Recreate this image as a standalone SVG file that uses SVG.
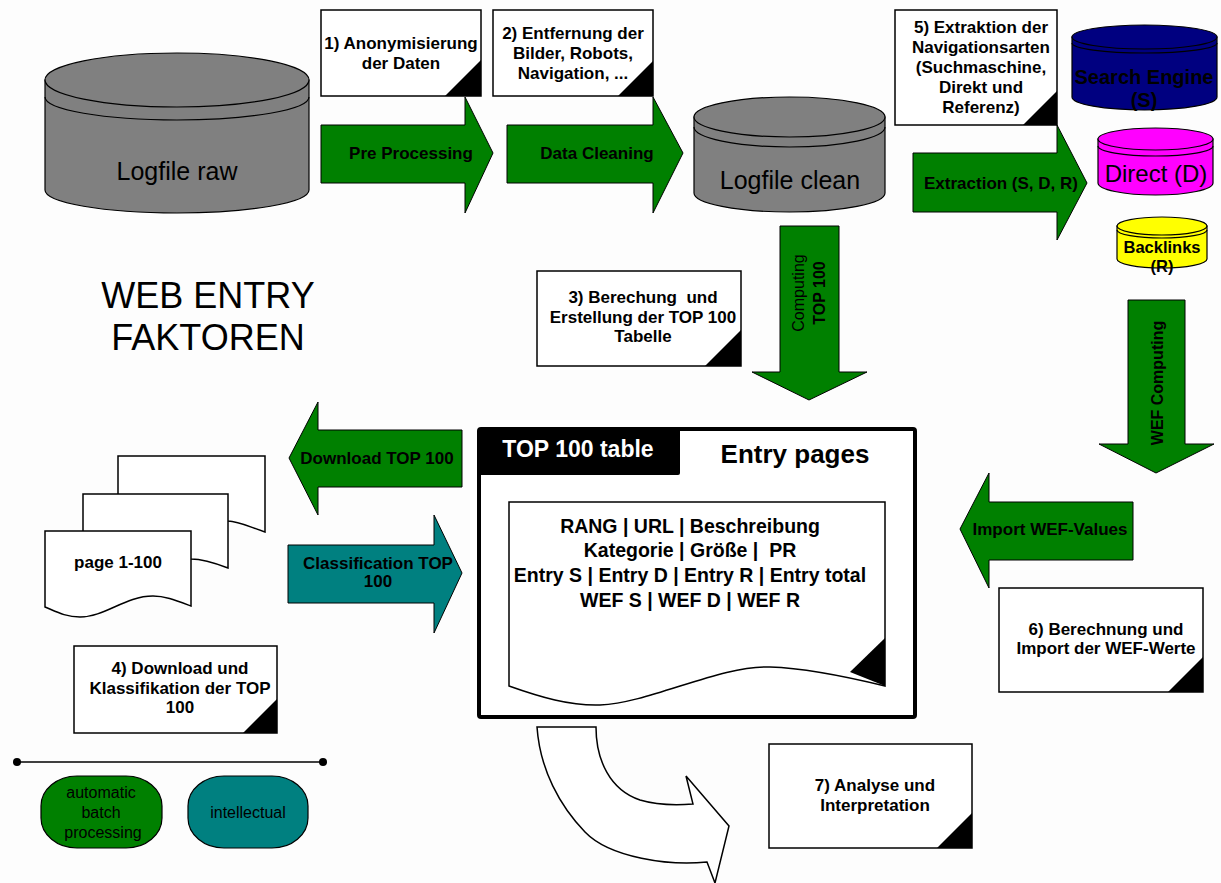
<svg xmlns="http://www.w3.org/2000/svg" width="1221" height="883" viewBox="0 0 1221 883">
<style>
.bg{fill:#fdfdfd}
.box{fill:#fff;stroke:#000;stroke-width:1.5}
.cor{fill:#000}
.t{font-family:"Liberation Sans",Arial,sans-serif;font-weight:bold;font-size:17px;text-anchor:middle;fill:#000}
.n{font-weight:normal}
.ga{fill:#008000;stroke:#000;stroke-width:1}
.ta{fill:#008080;stroke:#000;stroke-width:1}
.cyl{stroke:#000;stroke-width:1.2}
.ln{fill:none;stroke:#000;stroke-width:1.2}
</style>
<rect class="bg" x="0" y="0" width="1221" height="883"/>

<g id="connectors">
  <path class="ga" d="M321,125 L465,125 L465,97 L493,153 L465,213 L465,183 L321,183 Z"/>
  <path class="ga" d="M507,125 L653,125 L653,97 L683,153 L653,213 L653,183 L507,183 Z"/>
  <path class="ga" d="M913,153 L1057,153 L1057,125 L1087,183 L1057,240 L1057,212 L913,212 Z"/>
  <path class="ga" d="M462,430 L318,430 L318,402 L289,458 L318,515 L318,487 L462,487 Z"/>
  <path class="ta" d="M288,545 L434,545 L434,515 L462,573 L434,633 L434,603 L288,603 Z"/>
  <path class="ga" d="M1133,502 L989,502 L989,473 L960,529 L989,588 L989,560 L1133,560 Z"/>
  <path class="ga" d="M780,226 L839,226 L839,372 L867,372 L809,400 L752,372 L780,372 Z"/>
  <path class="ga" d="M1128,300 L1185,300 L1185,444 L1214,444 L1156,473 L1099,444 L1128,444 Z"/>
  <path fill="#fff" stroke="#000" stroke-width="1.5" d="M537,727 L596,727 C596,760 610,790 640,800 C660,806 680,805 693,804 L686,776 L729,826 L715,883 L707,862 C670,866 610,858 585,832 C560,806 540,770 537,727 Z"/>
  <text class="t" x="411" y="159">Pre Processing</text>
  <text class="t" x="597" y="159">Data Cleaning</text>
  <text class="t" x="1001" y="189">Extraction (S, D, R)</text>
  <text class="t" x="377" y="464">Download TOP 100</text>
  <text class="t" x="378" y="569">Classification TOP</text>
  <text class="t" x="378" y="587">100</text>
  <text class="t" x="1050" y="535">Import WEF-Values</text>
  <text class="t n" transform="translate(798,293) rotate(-90)" x="0" y="6" style="font-size:16px">Computing</text>
  <text class="t" transform="translate(819,293) rotate(-90)" x="0" y="6" style="font-size:16px">TOP 100</text>
  <text class="t" transform="translate(1157,383) rotate(-90)" x="0" y="6" style="font-size:16px">WEF Computing</text>
</g>

<g id="logfile-raw">
  <path class="cyl" fill="#808080" d="M45,80 L45,190 A132,23 0 0 0 309,190 L309,80 Z"/>
  <ellipse class="cyl" fill="#808080" cx="177" cy="80" rx="132" ry="27"/>
  <path class="ln" d="M45,97 A132,23 0 0 0 309,97"/>
  <text class="t n" x="177" y="180" style="font-size:25px">Logfile raw</text>
</g>

<g id="logfile-clean">
  <path class="cyl" fill="#808080" d="M694,117 L694,193 A95.5,19 0 0 0 885,193 L885,117 Z"/>
  <ellipse class="cyl" fill="#808080" cx="789.5" cy="117" rx="95.5" ry="20"/>
  <path class="ln" d="M694,127 A95.5,20 0 0 0 885,127"/>
  <text class="t n" x="790" y="189" style="font-size:25px">Logfile clean</text>
</g>

<g id="search-engine">
  <path class="cyl" fill="#000080" d="M1072,37 L1072,97 A72.5,13 0 0 0 1217,97 L1217,37 Z"/>
  <ellipse class="cyl" fill="#000080" cx="1144.5" cy="37" rx="72.5" ry="12"/>
  <path class="ln" d="M1072,43 A72.5,10 0 0 0 1217,43"/>
  <text class="t" x="1144" y="84" style="font-size:20px;fill:#000">Search Engine</text>
  <text class="t" x="1144" y="107" style="font-size:20px;fill:#000">(S)</text>
</g>

<g id="direct">
  <path class="cyl" fill="#ff00ff" d="M1098,139 L1098,183 A57.5,12 0 0 0 1213,183 L1213,139 Z"/>
  <ellipse class="cyl" fill="#ff00ff" cx="1155.5" cy="139" rx="57.5" ry="11"/>
  <path class="ln" d="M1098,146 A57.5,10 0 0 0 1213,146"/>
  <text class="t n" x="1156" y="182" style="font-size:24px">Direct (D)</text>
</g>

<g id="backlinks">
  <path class="cyl" fill="#ffff00" d="M1117,226 L1117,259 A45,9 0 0 0 1207,259 L1207,226 Z"/>
  <ellipse class="cyl" fill="#ffff00" cx="1162" cy="226" rx="45" ry="9"/>
  <path class="ln" d="M1117,230 A45,8 0 0 0 1207,230"/>
  <text class="t" x="1162" y="253" style="font-size:16.5px">Backlinks</text>
  <text class="t" x="1162" y="272" style="font-size:16.5px">(R)</text>
</g>

<g id="step1">
  <rect class="box" x="321" y="10" width="160" height="86"/>
  <polygon class="cor" points="445,96 481,96 481,60"/>
  <text class="t" x="401" y="49">1) Anonymisierung</text>
  <text class="t" x="401" y="69">der Daten</text>
</g>

<g id="step2">
  <rect class="box" x="493" y="10" width="160" height="86"/>
  <polygon class="cor" points="618,96 653,96 653,61"/>
  <text class="t" x="573" y="39">2) Entfernung der</text>
  <text class="t" x="573" y="59">Bilder, Robots,</text>
  <text class="t" x="573" y="79">Navigation, ...</text>
</g>

<g id="step5">
  <rect class="box" x="895" y="10" width="162" height="115"/>
  <polygon class="cor" points="1023,125 1057,125 1057,91"/>
  <text class="t" x="981" y="33">5) Extraktion der</text>
  <text class="t" x="981" y="53">Navigationsarten</text>
  <text class="t" x="981" y="73">(Suchmaschine,</text>
  <text class="t" x="981" y="93">Direkt und</text>
  <text class="t" x="981" y="113">Referenz)</text>
</g>

<g id="title">
  <text class="t n" x="208" y="308" style="font-size:36px">WEB ENTRY</text>
  <text class="t n" x="208" y="350" style="font-size:36px">FAKTOREN</text>
</g>

<g id="step3">
  <rect class="box" x="537" y="271" width="204" height="95"/>
  <polygon class="cor" points="705,366 741,366 741,330"/>
  <text class="t" x="643" y="303" xml:space="preserve">3) Berechung  und</text>
  <text class="t" x="643" y="323">Erstellung der TOP 100</text>
  <text class="t" x="643" y="342">Tabelle</text>
</g>

<g id="top100-table">
  <rect x="479" y="429" width="436" height="288" rx="2" fill="#fff" stroke="#000" stroke-width="4"/>
  <path d="M479,429 H680 V473 Q680,475 678,475 H479 Z" fill="#000"/>
  <text class="t" x="578" y="457" style="font-size:23px;fill:#fff">TOP 100 table</text>
  <text class="t" x="795" y="463" style="font-size:26px">Entry pages</text>
  <path class="box" d="M509,502 H885 V686 C840,675 800,668 770,667 C720,665 650,703 600,705 C570,706 540,697 509,686 Z"/>
  <polygon class="cor" points="850,672 885,638 885,686"/>
  <text class="t" x="690" y="533" style="font-size:19.5px">RANG | URL | Beschreibung</text>
  <text class="t" x="690" y="557" style="font-size:19.5px" xml:space="preserve">Kategorie | Größe |  PR</text>
  <text class="t" x="690" y="582" style="font-size:19.5px">Entry S | Entry D | Entry R | Entry total</text>
  <text class="t" x="690" y="607" style="font-size:19.5px">WEF S | WEF D | WEF R</text>
</g>

<g id="pages">
  <path class="box" d="M118,456 H265 V532 C250,527 238,521 228,521 C190,519 160,540 130,541 L118,539 Z"/>
  <path class="box" d="M83,494 H228 V568 C215,563 200,559 191,559 C155,557 125,578 95,578 L83,575 Z"/>
  <path class="box" d="M45,531 H191 V606 C175,600 165,596 153,596 C125,596 105,617 80,617 C65,617 55,611 45,607 Z"/>
  <text class="t" x="118" y="568">page 1-100</text>
</g>

<g id="step4">
  <rect class="box" x="74" y="646" width="203" height="87"/>
  <polygon class="cor" points="243,733 277,733 277,699"/>
  <text class="t" x="180" y="674">4) Download und</text>
  <text class="t" x="180" y="694">Klassifikation der TOP</text>
  <text class="t" x="180" y="713">100</text>
</g>

<g id="step6">
  <rect class="box" x="999" y="588" width="204" height="104"/>
  <polygon class="cor" points="1168,692 1203,692 1203,657"/>
  <text class="t" x="1106" y="635">6) Berechnung und</text>
  <text class="t" x="1106" y="654">Import der WEF-Werte</text>
</g>

<g id="step7">
  <rect class="box" x="769" y="744" width="203" height="104"/>
  <polygon class="cor" points="937,848 972,848 972,813"/>
  <text class="t" x="875" y="791">7) Analyse und</text>
  <text class="t" x="875" y="811">Interpretation</text>
</g>

<g id="legend">
  <line x1="17" y1="762" x2="323" y2="762" stroke="#000" stroke-width="1.5"/>
  <circle cx="17" cy="762" r="4" fill="#000"/>
  <circle cx="323" cy="762" r="4" fill="#000"/>
  <rect x="41" y="776" width="121" height="72" rx="36" ry="30" fill="#008000" stroke="#000" stroke-width="1.2"/>
  <text class="t n" x="101" y="798" style="font-size:16px">automatic</text>
  <text class="t n" x="101" y="818" style="font-size:16px">batch</text>
  <text class="t n" x="103" y="838" style="font-size:16px">processing</text>
  <rect x="188" y="776" width="120" height="72" rx="36" ry="30" fill="#008080" stroke="#000" stroke-width="1.2"/>
  <text class="t n" x="248" y="818" style="font-size:16px">intellectual</text>
</g>
</svg>
